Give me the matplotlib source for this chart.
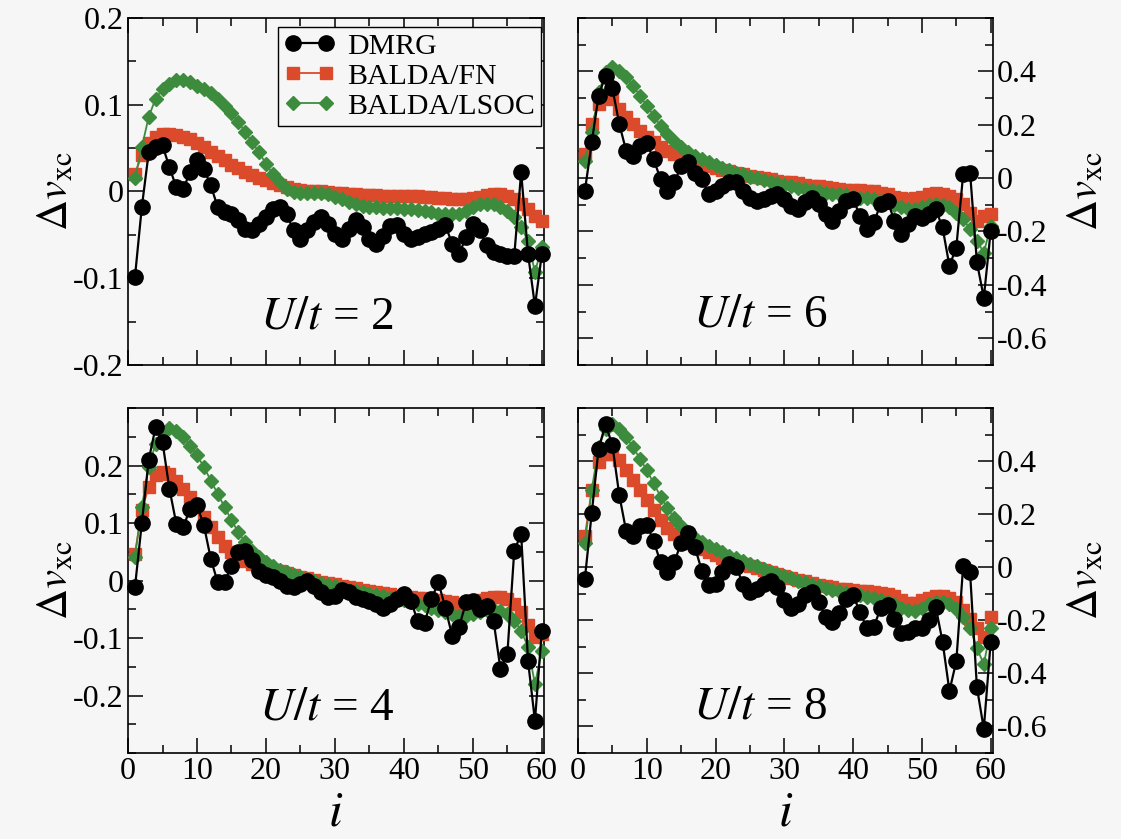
import numpy as np
import matplotlib.pyplot as plt
from matplotlib.ticker import MultipleLocator

plt.rcParams['font.family'] = 'Liberation Serif'
plt.rcParams['mathtext.fontset'] = 'stix'

i = np.arange(1, 61)

# U/t = 2
dmrg_u2 = [-0.099, -0.018, 0.045, 0.051, 0.053, 0.028, 0.005, 0.003, 0.022, 0.036,
           0.026, 0.007, -0.018, -0.024, -0.026, -0.033, -0.043, -0.045, -0.037, -0.030,
           -0.020, -0.018, -0.026, -0.045, -0.055, -0.045, -0.035, -0.030, -0.037, -0.049,
           -0.055, -0.043, -0.033, -0.041, -0.055, -0.060, -0.051, -0.040, -0.039, -0.049,
           -0.055, -0.053, -0.049, -0.047, -0.043, -0.039, -0.060, -0.072, -0.053, -0.037,
           -0.045, -0.062, -0.070, -0.072, -0.074, -0.074, 0.022, -0.072, -0.132, -0.072]
fn_u2 = [0.020, 0.042, 0.056, 0.063, 0.066, 0.066, 0.065, 0.063, 0.060, 0.056,
         0.051, 0.046, 0.041, 0.036, 0.031, 0.027, 0.023, 0.019, 0.016, 0.013,
         0.010, 0.007, 0.005, 0.003, 0.002, 0.001, 0.000, 0.000, -0.001, -0.002,
         -0.002, -0.003, -0.003, -0.004, -0.004, -0.004, -0.005, -0.005, -0.005, -0.005,
         -0.005, -0.005, -0.006, -0.006, -0.007, -0.008, -0.009, -0.009, -0.009, -0.008,
         -0.006, -0.004, -0.003, -0.003, -0.005, -0.009, -0.014, -0.020, -0.028, -0.034]
lsoc_u2 = [0.015, 0.051, 0.086, 0.107, 0.118, 0.124, 0.128, 0.129, 0.126, 0.122,
           0.118, 0.113, 0.107, 0.099, 0.090, 0.080, 0.068, 0.057, 0.045, 0.032,
           0.020, 0.011, 0.003, -0.001, -0.002, -0.002, -0.002, -0.002, -0.003, -0.006,
           -0.009, -0.012, -0.015, -0.017, -0.018, -0.018, -0.019, -0.019, -0.019, -0.020,
           -0.020, -0.021, -0.022, -0.024, -0.026, -0.026, -0.026, -0.026, -0.022, -0.018,
           -0.015, -0.014, -0.015, -0.018, -0.022, -0.030, -0.041, -0.057, -0.093, -0.064]

# U/t = 6
dmrg_u6 = [-0.048, 0.134, 0.309, 0.384, 0.336, 0.203, 0.103, 0.084, 0.121, 0.131,
           0.071, -0.004, -0.048, -0.016, 0.046, 0.059, 0.020, -0.004, -0.060, -0.048,
           -0.029, -0.014, -0.016, -0.048, -0.073, -0.085, -0.079, -0.066, -0.060, -0.079,
           -0.104, -0.116, -0.091, -0.073, -0.098, -0.135, -0.160, -0.123, -0.085, -0.079,
           -0.141, -0.191, -0.166, -0.098, -0.085, -0.160, -0.210, -0.173, -0.141, -0.148,
           -0.135, -0.116, -0.185, -0.329, -0.260, 0.015, 0.021, -0.316, -0.448, -0.198]
fn_u6 = [0.090, 0.203, 0.278, 0.303, 0.296, 0.259, 0.228, 0.203, 0.178, 0.153,
         0.134, 0.115, 0.103, 0.090, 0.078, 0.068, 0.059, 0.051, 0.044, 0.038,
         0.031, 0.025, 0.019, 0.014, 0.009, 0.004, -0.001, -0.005, -0.009, -0.013,
         -0.016, -0.020, -0.024, -0.028, -0.031, -0.035, -0.038, -0.040, -0.043, -0.044,
         -0.045, -0.048, -0.050, -0.054, -0.060, -0.069, -0.076, -0.079, -0.076, -0.069,
         -0.060, -0.056, -0.058, -0.066, -0.079, -0.098, -0.129, -0.160, -0.141, -0.135]
lsoc_u6 = [0.065, 0.171, 0.321, 0.396, 0.415, 0.403, 0.378, 0.346, 0.309, 0.271,
           0.234, 0.196, 0.165, 0.140, 0.118, 0.099, 0.084, 0.071, 0.059, 0.049,
           0.039, 0.030, 0.021, 0.014, 0.006, -0.001, -0.008, -0.014, -0.020, -0.026,
           -0.031, -0.036, -0.041, -0.046, -0.050, -0.054, -0.058, -0.061, -0.065, -0.069,
           -0.073, -0.076, -0.080, -0.085, -0.091, -0.100, -0.110, -0.116, -0.116, -0.110,
           -0.101, -0.098, -0.101, -0.110, -0.129, -0.154, -0.191, -0.235, -0.279, -0.179]

# U/t = 4
dmrg_u4 = [-0.012, 0.100, 0.210, 0.267, 0.241, 0.160, 0.099, 0.093, 0.125, 0.131,
           0.096, 0.038, -0.003, -0.003, 0.026, 0.049, 0.052, 0.035, 0.017, 0.009,
           0.006, 0.000, -0.009, -0.012, -0.006, 0.000, -0.009, -0.020, -0.029, -0.026,
           -0.017, -0.020, -0.029, -0.032, -0.035, -0.041, -0.047, -0.041, -0.032, -0.023,
           -0.035, -0.070, -0.073, -0.032, -0.003, -0.047, -0.096, -0.081, -0.038, -0.035,
           -0.049, -0.044, -0.070, -0.154, -0.128, 0.052, 0.081, -0.140, -0.244, -0.087]
fn_u4 = [0.047, 0.122, 0.163, 0.183, 0.189, 0.185, 0.174, 0.160, 0.145, 0.128,
         0.110, 0.093, 0.076, 0.061, 0.049, 0.041, 0.034, 0.029, 0.025, 0.022,
         0.019, 0.016, 0.013, 0.010, 0.007, 0.004, 0.001, -0.002, -0.004, -0.006,
         -0.009, -0.011, -0.013, -0.016, -0.018, -0.020, -0.022, -0.024, -0.026, -0.027,
         -0.028, -0.030, -0.031, -0.032, -0.034, -0.035, -0.038, -0.040, -0.040, -0.037,
         -0.034, -0.031, -0.029, -0.029, -0.032, -0.041, -0.055, -0.078, -0.099, -0.093]
lsoc_u4 = [0.041, 0.128, 0.198, 0.238, 0.259, 0.265, 0.260, 0.250, 0.235, 0.218,
           0.198, 0.174, 0.151, 0.128, 0.105, 0.084, 0.067, 0.052, 0.041, 0.032,
           0.025, 0.019, 0.015, 0.010, 0.006, 0.003, -0.001, -0.004, -0.007, -0.010,
           -0.013, -0.016, -0.018, -0.020, -0.023, -0.025, -0.027, -0.030, -0.032, -0.034,
           -0.037, -0.040, -0.043, -0.047, -0.051, -0.055, -0.059, -0.061, -0.061, -0.058,
           -0.054, -0.051, -0.051, -0.053, -0.059, -0.070, -0.087, -0.116, -0.180, -0.122]

# U/t = 8
dmrg_u8 = [-0.043, 0.205, 0.447, 0.540, 0.460, 0.273, 0.137, 0.118, 0.155, 0.161,
           0.099, 0.019, -0.019, 0.019, 0.093, 0.130, 0.075, -0.012, -0.068, -0.062,
           -0.019, 0.012, 0.000, -0.062, -0.093, -0.081, -0.062, -0.050, -0.075, -0.124,
           -0.155, -0.137, -0.106, -0.093, -0.130, -0.186, -0.205, -0.174, -0.118, -0.106,
           -0.168, -0.230, -0.224, -0.155, -0.143, -0.193, -0.248, -0.242, -0.230, -0.230,
           -0.199, -0.149, -0.280, -0.466, -0.354, 0.006, -0.019, -0.453, -0.609, -0.280]
fn_u8 = [0.118, 0.292, 0.398, 0.429, 0.429, 0.404, 0.366, 0.329, 0.292, 0.255,
         0.217, 0.180, 0.149, 0.124, 0.106, 0.093, 0.081, 0.068, 0.056, 0.046,
         0.036, 0.027, 0.019, 0.011, 0.004, -0.004, -0.011, -0.019, -0.026, -0.034,
         -0.040, -0.046, -0.052, -0.058, -0.065, -0.071, -0.076, -0.080, -0.083, -0.086,
         -0.088, -0.091, -0.093, -0.097, -0.102, -0.109, -0.122, -0.134, -0.134, -0.124,
         -0.116, -0.109, -0.108, -0.114, -0.130, -0.161, -0.193, -0.230, -0.261, -0.186]
lsoc_u8 = [0.093, 0.292, 0.453, 0.522, 0.540, 0.522, 0.491, 0.453, 0.410, 0.366,
           0.317, 0.267, 0.224, 0.186, 0.155, 0.130, 0.112, 0.096, 0.081, 0.068,
           0.056, 0.043, 0.034, 0.024, 0.014, 0.004, -0.006, -0.016, -0.025, -0.034,
           -0.042, -0.050, -0.057, -0.065, -0.072, -0.078, -0.084, -0.091, -0.096, -0.101,
           -0.106, -0.111, -0.116, -0.122, -0.129, -0.139, -0.152, -0.161, -0.163, -0.153,
           -0.139, -0.130, -0.130, -0.140, -0.158, -0.186, -0.230, -0.304, -0.366, -0.230]

xticks = [0, 10, 20, 30, 40, 50, 60]
left_ticks = [-0.2, -0.1, 0, 0.1, 0.2]
left_labels = ['-0.2', '-0.1', '0', '0.1', '0.2']
right_ticks = [-0.6, -0.4, -0.2, 0, 0.2, 0.4]
right_labels = ['-0.6', '-0.4', '-0.2', '0', '0.2', '0.4']

red = '#dc4a2c'
green = '#3d8c3d'
bg = '#f6f6f6'

fig = plt.figure(figsize=(11.21, 8.39), dpi=100, facecolor=bg)

# [left, bottom, width, height], U, data, ylim, minor step, side, x labels?, text pos
panels = [
    ([0.1142, 0.565, 0.371, 0.4136], 2, dmrg_u2, fn_u2, lsoc_u2, (-0.2, 0.2), 0.05, 'left', False, (0.478, 0.138)),
    ([0.5156, 0.565, 0.370, 0.4136], 6, dmrg_u6, fn_u6, lsoc_u6, (-0.7, 0.6), 0.1, 'right', False, (0.439, 0.144)),
    ([0.1142, 0.1025, 0.371, 0.411], 4, dmrg_u4, fn_u4, lsoc_u4, (-0.3, 0.3), 0.05, 'left', True, (0.478, 0.13)),
    ([0.5156, 0.1025, 0.370, 0.411], 8, dmrg_u8, fn_u8, lsoc_u8, (-0.7, 0.6), 0.1, 'right', True, (0.439, 0.133)),
]

for rect, U, dm, fn, ls, ylim, mstep, side, bottom, tpos in panels:
    ax = fig.add_axes(rect, facecolor=bg)
    l2, = ax.plot(i, fn, '-s', color=red, ms=9, lw=1.3, mec=red, clip_on=False, zorder=3)
    l3, = ax.plot(i, ls, '-D', color=green, ms=7, lw=1.3, mec=green, clip_on=False, zorder=4)
    l1, = ax.plot(i, dm, '-o', color='black', ms=11, lw=1.6, clip_on=False, zorder=5)
    ax.set_xlim(0, 60.3)
    ax.set_ylim(*ylim)
    ax.set_xticks(xticks)
    ax.xaxis.set_minor_locator(MultipleLocator(5))
    ax.yaxis.set_minor_locator(MultipleLocator(mstep))
    if side == 'left':
        ax.set_yticks(left_ticks)
        ax.set_yticklabels(left_labels)
    else:
        ax.set_yticks(right_ticks)
        ax.set_yticklabels(right_labels)
        ax.yaxis.tick_right()
        ax.yaxis.set_label_position('right')
    ax.tick_params(which='both', direction='in', top=True, bottom=True, left=True, right=True,
                   labelsize=23, width=1.1, pad=3)
    ax.tick_params(which='major', length=11)
    ax.tick_params(which='minor', length=5.5)
    if bottom:
        ax.set_xticklabels([str(t) for t in xticks])
        ax.set_xlabel(r'$i$', fontsize=36, labelpad=3)
    else:
        ax.set_xticklabels([])
    ax.set_ylabel(r'$\Delta v_{\rm xc}$', fontsize=31, labelpad=-2 if side == 'left' else 14,
                  rotation=90)
    for s in ax.spines.values():
        s.set_linewidth(1.2)
    ax.text(tpos[0], tpos[1], r'$U/t$ = %d' % U, transform=ax.transAxes,
            fontsize=34, ha='center', va='center')
    if U == 2:
        leg = ax.legend([l1, l2, l3], ['DMRG', 'BALDA/FN', 'BALDA/LSOC'],
                        loc='upper right', bbox_to_anchor=(0.993, 0.974), borderaxespad=0,
                        fontsize=21.5, numpoints=2, handlelength=1.7, labelspacing=0.1,
                        handletextpad=0.4, borderpad=0.2, fancybox=False, framealpha=1,
                        facecolor=bg, edgecolor='black')
        leg.get_frame().set_linewidth(1.0)

fig.savefig('out.png', dpi=100, facecolor=bg)
